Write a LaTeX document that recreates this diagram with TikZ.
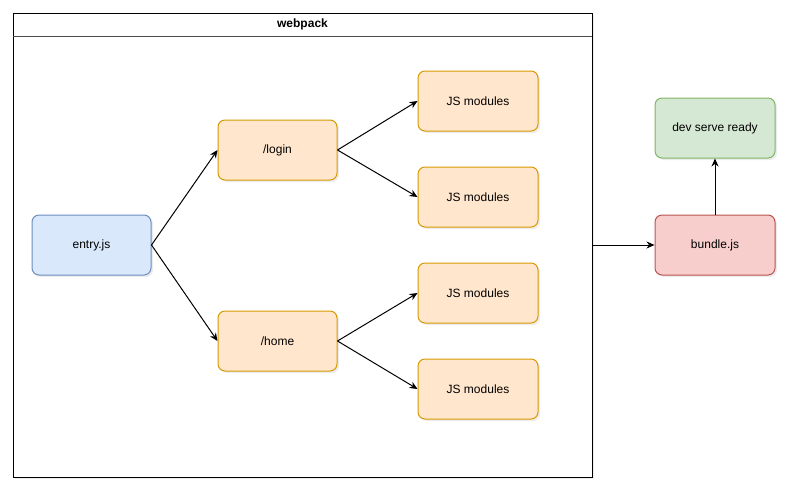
\documentclass[tikz,border=0pt]{standalone}
\usepackage{fontspec}
\setmainfont{Liberation Sans}
\usetikzlibrary{arrows.meta, positioning, shadows}

\definecolor{blueFill}{HTML}{DAE8FC}
\definecolor{blueLine}{HTML}{6C8EBF}
\definecolor{orangeFill}{HTML}{FFE6CC}
\definecolor{orangeLine}{HTML}{D79B00}
\definecolor{redFill}{HTML}{F8CECC}
\definecolor{redLine}{HTML}{B85450}
\definecolor{greenFill}{HTML}{D5E8D4}
\definecolor{greenLine}{HTML}{82B366}

\begin{document}
\begin{tikzpicture}[
    x=1pt, y=-1pt,
    font=\fontsize{12}{14}\selectfont,
    shade/.style={drop shadow={shadow xshift=2pt, shadow yshift=-2pt, opacity=0.15}},
    box/.style={rectangle, rounded corners=7pt, line width=1pt, minimum width=119pt, minimum height=60pt, align=center, shade},
    entrybox/.style={box, fill=blueFill, draw=blueLine},
    routebox/.style={box, fill=orangeFill, draw=orangeLine},
    modbox/.style={box, fill=orangeFill, draw=orangeLine, minimum width=120pt},
    bundlebox/.style={box, fill=redFill, draw=redLine, minimum width=120pt},
    readybox/.style={box, fill=greenFill, draw=greenLine, minimum width=120pt},
    arrow/.style={-{Stealth[length=8pt, width=7pt]}, line width=1pt, black}
]
\useasboundingbox (0,0) rectangle (794,496);

% Webpack container
\node[rectangle, draw=black, line width=1pt, fill=white, minimum width=579pt, minimum height=464pt, shade] (webpack) at (302.5, 245) {};
\draw[line width=1pt, black!70] (13,36) -- (592,36);
\node[font=\fontsize{12}{14}\selectfont\bfseries] (title) at (302.5, 24.5) {webpack};

% Entry point
\node[entrybox] (entry) at (91.5, 245) {entry.js};

% Routes
\node[routebox] (login) at (277.5, 150) {/login};
\node[routebox] (home) at (277.5, 341) {/home};

% Modules
\node[modbox] (mod1) at (478, 101) {JS modules};
\node[modbox] (mod2) at (478, 197) {JS modules};
\node[modbox] (mod3) at (478, 293) {JS modules};
\node[modbox] (mod4) at (478, 389) {JS modules};

% Output
\node[bundlebox] (bundle) at (715, 245) {bundle.js};
\node[readybox] (ready) at (715, 128) {dev serve ready};

% Arrows
\draw[arrow] (entry.east) -- (login.west);
\draw[arrow] (entry.east) -- (home.west);
\draw[arrow] (login.east) -- (mod1.west);
\draw[arrow] (login.east) -- (mod2.west);
\draw[arrow] (home.east) -- (mod3.west);
\draw[arrow] (home.east) -- (mod4.west);
\draw[arrow] (webpack.east) -- (bundle.west);
\draw[arrow] (bundle.north) -- (ready.south);

\end{tikzpicture}
\end{document}
